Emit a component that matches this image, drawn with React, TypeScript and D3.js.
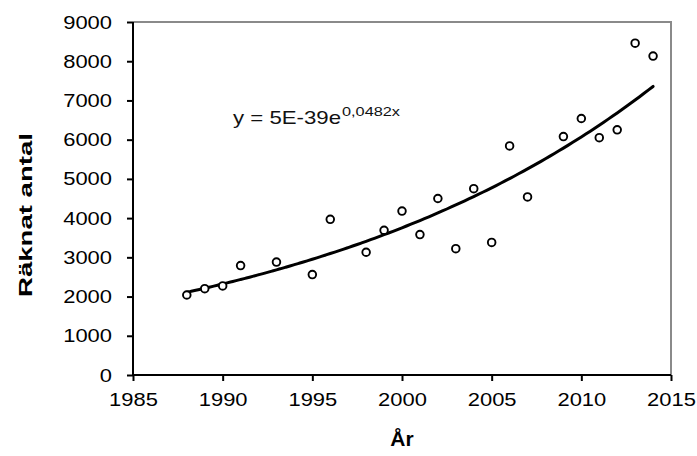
import React, { useEffect, useRef } from "react";
import * as d3 from "d3";

const width = 697;
const height = 456;
const margin = { top: 22, right: 26, bottom: 81, left: 133 };

// observed counts per year
const years = [1988, 1989, 1990, 1991, 1993, 1995, 1996, 1998, 1999, 2000, 2001, 2002, 2003, 2004, 2005, 2006, 2007, 2009, 2010, 2011, 2012, 2013, 2014];
const counts = [2040, 2200, 2270, 2790, 2880, 2560, 3970, 3130, 3690, 4180, 3580, 4500, 3220, 4750, 3380, 5840, 4540, 6080, 6540, 6050, 6250, 8460, 8130];

const xTicks = [1985, 1990, 1995, 2000, 2005, 2010, 2015];
const yTicks = [0, 1000, 2000, 3000, 4000, 5000, 6000, 7000, 8000, 9000];
const equation = "y = 5E-39e";
const equationExp = "0,0482x";

const font = "'Liberation Sans', Arial, sans-serif";

export default function App() {
  const ref = useRef<SVGSVGElement>(null);

  useEffect(() => {
    document.body.style.margin = "0";
    const svg = d3.select(ref.current);
    svg.selectAll("*").remove();

    const x = d3.scaleLinear().domain([1985, 2015]).range([margin.left, width - margin.right]);
    const y = d3.scaleLinear().domain([0, 9000]).range([height - margin.bottom, margin.top]);

    // frame: gray top and right
    svg.append("path")
      .attr("d", `M${x(1985)},${y(9000)}H${x(2015)}V${y(0)}`)
      .attr("fill", "none")
      .attr("stroke", "#8a8a8a")
      .attr("stroke-width", 2);

    const xAxis = svg.append("g")
      .attr("transform", `translate(0,${y(0)})`)
      .call(d3.axisBottom(x).tickValues(xTicks).tickFormat(d3.format("d")).tickSize(6).tickPadding(12));
    const yAxis = svg.append("g")
      .attr("transform", `translate(${x(1985)},0)`)
      .call(d3.axisLeft(y).tickValues(yTicks).tickFormat(d3.format("d")).tickSize(6).tickPadding(15));

    [xAxis, yAxis].forEach(g => {
      g.select(".domain").attr("stroke", "#000").attr("stroke-width", 2);
      g.selectAll(".tick line").attr("stroke", "#000").attr("stroke-width", 2);
      g.selectAll(".tick text")
        .attr("fill", "#000")
        .style("font-family", font)
        .style("font-size", "19px")
        .attr("lengthAdjust", "spacingAndGlyphs")
        .attr("textLength", (d: any) => (String(d).length * 12.2));
    });
    yAxis.select(".domain").attr("d", `M0,${y(0)}V${y(9000)}`);
    xAxis.select(".domain").attr("d", `M0,0H${x(2015) - x(1985)}`).attr("transform", `translate(${x(1985)},0)`);

    // exponential trend (least squares on ln y)
    const lx = years;
    const ly = counts.map(v => Math.log(v));
    const mx = d3.mean(lx)!;
    const my = d3.mean(ly)!;
    const b = d3.sum(lx.map((v, i) => (v - mx) * (ly[i] - my))) / d3.sum(lx.map(v => (v - mx) ** 2));
    const a = my - b * mx;
    const trendX = d3.range(years[0], years[years.length - 1] + 0.001, 0.25);
    const line = d3.line<number>()
      .x(d => x(d))
      .y(d => y(Math.exp(a + b * d)))
      .curve(d3.curveMonotoneX);
    svg.append("path")
      .datum(trendX)
      .attr("d", line)
      .attr("fill", "none")
      .attr("stroke", "#000")
      .attr("stroke-width", 3)
      .attr("stroke-linecap", "round");

    svg.append("g")
      .selectAll("circle")
      .data(years)
      .enter()
      .append("circle")
      .attr("cx", d => x(d))
      .attr("cy", (d, i) => y(counts[i]))
      .attr("r", 3.8)
      .attr("fill", "#fff")
      .attr("stroke", "#000")
      .attr("stroke-width", 1.9);

    const eq = svg.append("text")
      .attr("x", 233)
      .attr("y", 124)
      .attr("fill", "#111")
      .style("font-family", font)
      .style("font-size", "18.5px");
    eq.append("tspan").text(equation).attr("textLength", 108).attr("lengthAdjust", "spacingAndGlyphs");
    eq.append("tspan")
      .attr("x", 342)
      .attr("y", 116)
      .style("font-size", "13px")
      .attr("textLength", 58)
      .attr("lengthAdjust", "spacingAndGlyphs")
      .text(equationExp);

    svg.append("text")
      .attr("x", (x(1985) + x(2015)) / 2)
      .attr("y", 446)
      .attr("text-anchor", "middle")
      .style("font-family", font)
      .style("font-size", "21px")
      .style("font-weight", "bold")
      .text("År");

    svg.append("text")
      .attr("transform", `translate(32,215) rotate(-90)`)
      .attr("text-anchor", "middle")
      .style("font-family", font)
      .style("font-size", "19px")
      .style("font-weight", "bold")
      .attr("textLength", 164)
      .attr("lengthAdjust", "spacingAndGlyphs")
      .text("Räknat antal");
  }, []);

  return (
    <div>
      <svg ref={ref} width={width} height={height} style={{ display: "block", background: "#fff" }} />
    </div>
  );
}
